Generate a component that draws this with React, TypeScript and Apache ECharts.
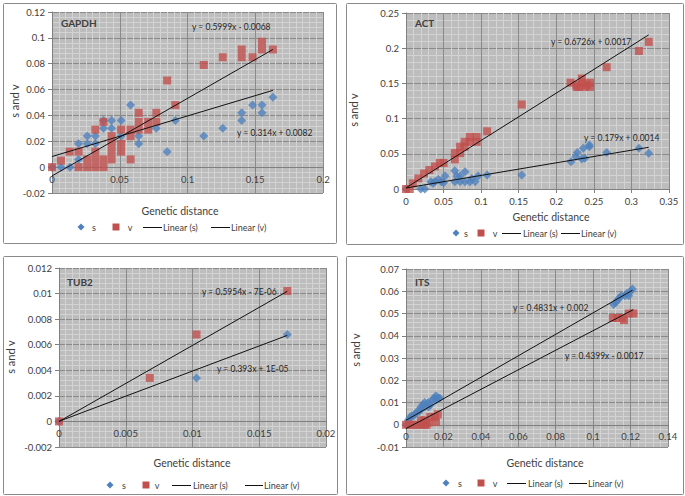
import React, { useEffect, useRef } from "react";
import * as echarts from "echarts";

// ---------- data ----------
const panelTitles = ["GAPDH", "ACT", "TUB2", "ITS"];

const gapdhS = [
  [0, 0], [0.0066, 0], [0.0133, 0], [0.0196, 0.006], [0.0196, 0.018], [0.026, 0.018], [0.026, 0.024],
  [0.032, 0.018], [0.032, 0.024], [0.038, 0.03], [0.038, 0.036], [0.044, 0.03], [0.044, 0.036],
  [0.051, 0.036], [0.051, 0.024], [0.058, 0.048], [0.064, 0.024], [0.064, 0.018], [0.077, 0.03],
  [0.085, 0.012], [0.091, 0.036], [0.112, 0.024], [0.126, 0.03], [0.14, 0.042], [0.14, 0.036],
  [0.148, 0.048], [0.155, 0.048], [0.155, 0.042], [0.163, 0.054],
];
const gapdhV = [
  [0, 0], [0.0066, 0.005], [0.013, 0.012], [0.0196, 0.012], [0.0196, 0], [0.026, 0.006], [0.026, 0],
  [0.032, 0.029], [0.032, 0.012], [0.032, 0.006], [0.032, 0], [0.038, 0.035], [0.038, 0.006], [0.038, 0],
  [0.044, 0.024], [0.044, 0.018], [0.044, 0.012], [0.044, 0.006], [0.051, 0.029], [0.051, 0.018],
  [0.051, 0.012], [0.058, 0.029], [0.058, 0.024], [0.058, 0.006], [0.064, 0.042], [0.064, 0.035],
  [0.064, 0.029], [0.071, 0.035], [0.071, 0.029], [0.077, 0.042], [0.077, 0.035], [0.085, 0.067],
  [0.091, 0.048], [0.112, 0.079], [0.126, 0.085], [0.14, 0.091], [0.14, 0.085], [0.148, 0.085],
  [0.155, 0.097], [0.155, 0.091], [0.163, 0.091],
];
const actS = [
  [0, 0], [0.0196, 0], [0.025, 0], [0.036, 0.008], [0.033, 0.0104], [0.0386, 0.0104], [0.043, 0.0137],
  [0.047, 0.0104], [0.05, 0.009], [0.052, 0.0185], [0.065, 0.026], [0.0675, 0.0185], [0.065, 0.0104],
  [0.072, 0.0104], [0.072, 0.0185], [0.0785, 0.0246], [0.0785, 0.0104], [0.085, 0.0104], [0.0875, 0.015],
  [0.092, 0.0104], [0.096, 0.0185], [0.108, 0.02], [0.154, 0.02], [0.2196, 0.0388], [0.226, 0.046],
  [0.228, 0.052], [0.234, 0.0426], [0.236, 0.058], [0.238, 0.0436], [0.244, 0.06], [0.244, 0.0625],
  [0.267, 0.052], [0.31, 0.058], [0.323, 0.0507],
];
const actV = [
  [0, 0], [0.005, 0], [0.009, 0.008], [0.0164, 0.015], [0.024, 0.022], [0.031, 0.027], [0.0386, 0.032],
  [0.045, 0.037], [0.05, 0.037], [0.065, 0.051], [0.065, 0.042], [0.072, 0.06], [0.072, 0.051],
  [0.078, 0.067], [0.078, 0.06], [0.085, 0.074], [0.085, 0.067], [0.094, 0.074], [0.094, 0.067],
  [0.108, 0.082], [0.154, 0.12], [0.219, 0.151], [0.227, 0.148], [0.227, 0.145], [0.23, 0.145],
  [0.234, 0.157], [0.234, 0.151], [0.238, 0.145], [0.241, 0.148], [0.245, 0.145], [0.245, 0.151],
  [0.267, 0.173], [0.31, 0.196], [0.323, 0.209],
];
const tub2S = [[0, 0], [0.0103, 0.0034], [0.0171, 0.0068]];
const tub2V = [[0, 0], [0.0068, 0.0034], [0.0103, 0.0068], [0.0171, 0.0102]];
const itsS = [
  [0, 0], [0.0012, 0.002], [0.002, 0.003], [0.003, 0.004], [0.004, 0.004], [0.005, 0.005], [0.006, 0.006],
  [0.007, 0.006], [0.008, 0.007], [0.008, 0.008], [0.009, 0.009], [0.01, 0.01], [0.01, 0.008],
  [0.011, 0.009], [0.012, 0.01], [0.012, 0.008], [0.013, 0.009], [0.014, 0.011], [0.015, 0.012],
  [0.016, 0.013], [0.016, 0.011], [0.017, 0.012], [0.018, 0.012], [0.111, 0.054], [0.112, 0.055],
  [0.113, 0.056], [0.114, 0.057], [0.115, 0.058], [0.117, 0.058], [0.118, 0.059], [0.119, 0.058],
  [0.12, 0.06], [0.121, 0.061],
];
const itsV = [
  [0, 0], [0.002, 0], [0.004, 0], [0.006, 0], [0.008, 0], [0.01, 0], [0.011, 0], [0.008, 0.002],
  [0.01, 0.002], [0.012, 0.001], [0.013, 0.0035], [0.0155, 0.0035], [0.017, 0.0047], [0.016, 0.0012],
  [0.1105, 0.048], [0.113, 0.048], [0.1155, 0.048], [0.1165, 0.047], [0.119, 0.05], [0.1215, 0.05],
];
const sData = [gapdhS, actS, tub2S, itsS];
const vData = [gapdhV, actV, tub2V, itsV];

const sSlopes = [0.314, 0.179, 0.393, 0.4831];
const sIntercepts = [0.0082, 0.0014, 0.00001, 0.002];
const vSlopes = [0.5999, 0.6726, 0.5954, 0.4399];
const vIntercepts = [-0.0068, 0.0017, -0.000007, -0.0017];
const sEquations = ["y = 0.314x + 0.0082", "y = 0.179x + 0.0014", "y = 0.393x + 1E-05", "y = 0.4831x + 0.002"];
const vEquations = ["y = 0.5999x - 0.0068", "y = 0.6726x + 0.0017", "y = 0.5954x - 7E-06", "y = 0.4399x - 0.0017"];

const xMaxes = [0.2, 0.35, 0.02, 0.14];
const xIntervals = [0.05, 0.05, 0.005, 0.02];
const yMins = [-0.02, 0, -0.002, -0.01];
const yMaxes = [0.12, 0.25, 0.012, 0.07];
const yIntervals = [0.02, 0.05, 0.002, 0.01];

const legendLabels = ["s", "v", "Linear (s)", "Linear (v)"];
const xTitle = "Genetic distance";
const yTitle = "s and v";

// ---------- layout (pixels) ----------
const layout = [
  {
    box: [3, 3, 333, 240], grid: [52, 12, 271, 181], title: [61, 23], yT: [14, 101], xT: [180, 211],
    lg: { y: 227, d: 81, s: 94, q: 116, v: 130, l1: [143, 162], t1: 163, l2: [211, 230], t2: 231 },
    eqS: [237, 133], eqV: [192, 27], xMinor: 10, yMinor: 5,
  },
  {
    box: [346, 3, 337, 241], grid: [406, 13, 263, 176], title: [415, 23], yT: [353, 110], xT: [551, 217],
    lg: { y: 233, d: 456, s: 466, q: 481, v: 495, l1: [502, 521], t1: 523, l2: [561, 580], t2: 581 },
    eqS: [584, 138], eqV: [551, 42], xMinor: 5, yMinor: 5,
  },
  {
    box: [3, 256, 334, 238], grid: [59, 268, 267, 179], title: [67, 282], yT: [10, 357], xT: [192, 463],
    lg: { y: 485, d: 110, s: 124, q: 146, v: 157, l1: [172, 191], t1: 193, l2: [245, 263], t2: 264 },
    eqS: [217, 369], eqV: [202, 292], xMinor: 10, yMinor: 5,
  },
  {
    box: [346, 256, 337, 238], grid: [406, 269, 262, 178], title: [415, 282], yT: [355, 350], xT: [545, 463],
    lg: { y: 483, d: 446, s: 460, q: 481, v: 495, l1: [507, 526], t1: 528, l2: [569, 587], t2: 588 },
    eqS: [513, 308], eqV: [565, 356], xMinor: 5, yMinor: 5,
  },
];

const BLUE = "#4F81BD";
const RED = "#C0504D";
const FONT = "Lato";
const TXT = "#404040";

function trend(data: number[][], a: number, b: number) {
  const xs = data.map((p) => p[0]);
  const x0 = Math.min(...xs);
  const x1 = Math.max(...xs);
  return [[x0, a * x0 + b], [x1, a * x1 + b]];
}

export default function App() {
  const ref = useRef<HTMLDivElement>(null);
  useEffect(() => {
    if (!ref.current) return;
    const chart = echarts.init(ref.current, undefined, { renderer: "svg" });

    const grids = layout.map((l) => ({
      left: l.grid[0], top: l.grid[1], width: l.grid[2], height: l.grid[3],
      show: true, backgroundColor: "#BDBDBD", borderWidth: 0,
    }));
    const axisLabel = { fontFamily: FONT, fontSize: 9.5, color: TXT };
    const xAxes = layout.map((l, i) => ({
      type: "value", gridIndex: i, min: 0, max: xMaxes[i], interval: xIntervals[i],
      position: "bottom",
      // the x axis crosses the y axis at value 0
      offset: -((0 - yMins[i]) / (yMaxes[i] - yMins[i])) * l.grid[3],
      axisLine: { show: true, onZero: false, lineStyle: { color: "#7F7F7F", width: 1 } },
      axisTick: { show: true, length: 4, lineStyle: { color: "#7F7F7F" } },
      axisLabel: { ...axisLabel, margin: 7 },
      splitLine: { show: true, lineStyle: { color: "#8A8A8A", width: 1 } },
      minorTick: { show: false, splitNumber: l.xMinor },
      minorSplitLine: { show: true, lineStyle: { color: "#D3D3D3", width: 1 } },
    }));
    const yAxes = layout.map((l, i) => ({
      type: "value", gridIndex: i, min: yMins[i], max: yMaxes[i], interval: yIntervals[i],
      position: "left",
      axisLine: { show: true, onZero: false, lineStyle: { color: "#7F7F7F", width: 1 } },
      axisTick: { show: true, length: 4, lineStyle: { color: "#7F7F7F" } },
      axisLabel: { ...axisLabel, margin: 7 },
      splitLine: { show: true, lineStyle: { color: "#8A8A8A", width: 1 } },
      minorTick: { show: false, splitNumber: l.yMinor },
      minorSplitLine: { show: true, lineStyle: { color: "#D3D3D3", width: 1 } },
    }));

    const series: any[] = [];
    layout.forEach((_, i) => {
      series.push({
        type: "scatter", name: legendLabels[0], xAxisIndex: i, yAxisIndex: i, data: sData[i],
        symbol: "diamond", symbolSize: 9, itemStyle: { color: BLUE }, z: 2,
      });
      series.push({
        type: "scatter", name: legendLabels[1], xAxisIndex: i, yAxisIndex: i, data: vData[i],
        symbol: "rect", symbolSize: 8, itemStyle: { color: RED }, z: 2,
      });
      series.push({
        type: "line", name: legendLabels[2], xAxisIndex: i, yAxisIndex: i,
        data: trend(sData[i], sSlopes[i], sIntercepts[i]),
        symbol: "none", lineStyle: { color: "#111", width: 1 }, z: 3,
      });
      series.push({
        type: "line", name: legendLabels[3], xAxisIndex: i, yAxisIndex: i,
        data: trend(vData[i], vSlopes[i], vIntercepts[i]),
        symbol: "none", lineStyle: { color: "#111", width: 1 }, z: 3,
      });
    });

    const graphic: any[] = [];
    layout.forEach((l, i) => {
      graphic.push({
        type: "rect", silent: true,
        shape: { x: l.box[0] + 0.5, y: l.box[1] + 0.5, width: l.box[2], height: l.box[3], r: 1 },
        style: { fill: "transparent", stroke: "#8A8A8A", lineWidth: 1 },
      });
      graphic.push({
        type: "text", x: l.title[0], y: l.title[1], z: 10,
        style: { text: panelTitles[i], fontFamily: FONT, fontSize: 10, fontWeight: "bold", fill: TXT, textAlign: "left", textVerticalAlign: "middle" },
      });
      graphic.push({
        type: "text", x: l.yT[0], y: l.yT[1], rotation: Math.PI / 2,
        style: { text: yTitle, fontFamily: FONT, fontSize: 11, fill: TXT, textAlign: "center", textVerticalAlign: "middle" },
      });
      graphic.push({
        type: "text", x: l.xT[0], y: l.xT[1],
        style: { text: xTitle, fontFamily: FONT, fontSize: 10.5, fill: TXT, textAlign: "center", textVerticalAlign: "middle" },
      });
      graphic.push({
        type: "text", x: l.eqS[0], y: l.eqS[1], z: 10,
        style: { text: sEquations[i], fontFamily: FONT, fontSize: 8.5, fill: "#262626", textAlign: "left", textVerticalAlign: "middle" },
      });
      graphic.push({
        type: "text", x: l.eqV[0], y: l.eqV[1], z: 10,
        style: { text: vEquations[i], fontFamily: FONT, fontSize: 8.5, fill: "#262626", textAlign: "left", textVerticalAlign: "middle" },
      });
      const g = l.lg;
      graphic.push({
        type: "polygon",
        shape: { points: [[g.d, g.y - 3.5], [g.d + 3.5, g.y], [g.d, g.y + 3.5], [g.d - 3.5, g.y]] },
        style: { fill: BLUE },
      });
      graphic.push({
        type: "text", x: g.s, y: g.y,
        style: { text: legendLabels[0], fontFamily: FONT, fontSize: 9, fill: TXT, textAlign: "center", textVerticalAlign: "middle" },
      });
      graphic.push({
        type: "rect", shape: { x: g.q - 3.5, y: g.y - 3.5, width: 7, height: 7 }, style: { fill: RED },
      });
      graphic.push({
        type: "text", x: g.v, y: g.y,
        style: { text: legendLabels[1], fontFamily: FONT, fontSize: 9, fill: TXT, textAlign: "center", textVerticalAlign: "middle" },
      });
      graphic.push({
        type: "line", shape: { x1: g.l1[0], y1: g.y + 0.5, x2: g.l1[1], y2: g.y + 0.5 }, style: { stroke: "#111", lineWidth: 1 },
      });
      graphic.push({
        type: "text", x: g.t1, y: g.y,
        style: { text: legendLabels[2], fontFamily: FONT, fontSize: 9, fill: TXT, textAlign: "left", textVerticalAlign: "middle" },
      });
      graphic.push({
        type: "line", shape: { x1: g.l2[0], y1: g.y + 0.5, x2: g.l2[1], y2: g.y + 0.5 }, style: { stroke: "#111", lineWidth: 1 },
      });
      graphic.push({
        type: "text", x: g.t2, y: g.y,
        style: { text: legendLabels[3], fontFamily: FONT, fontSize: 9, fill: TXT, textAlign: "left", textVerticalAlign: "middle" },
      });
    });

    chart.setOption({
      animation: false,
      backgroundColor: "#FFFFFF",
      grid: grids,
      xAxis: xAxes,
      yAxis: yAxes,
      series,
      graphic,
    });
    return () => chart.dispose();
  }, []);

  return (
    <div
      ref={ref}
      style={{ position: "absolute", left: 0, top: 0, width: 685, height: 496 }}
    />
  );
}
